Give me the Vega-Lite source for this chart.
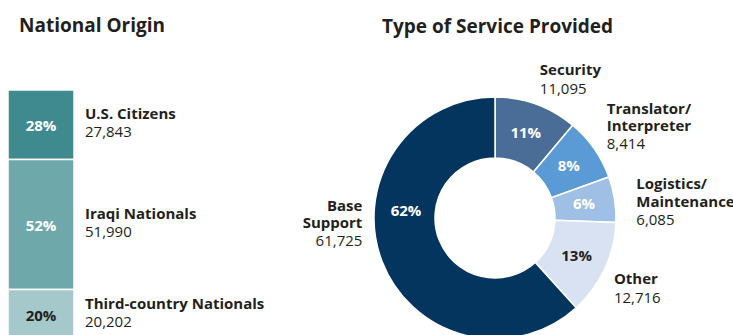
{
  "$schema": "https://vega.github.io/schema/vega-lite/v6.json",
  "padding": {"left": 7, "top": 16, "right": 0, "bottom": 0},
  "bounds": "flush",
  "spacing": 308,
  "resolve": {"scale": {"color": "independent"}},
  "config": {
    "view": {"stroke": null},
    "font": "Open Sans",
    "text": {"font": "Open Sans", "fontSize": 15, "color": "#231f20"},
    "title": {"font": "Open Sans", "fontSize": 19, "fontWeight": "bold", "color": "#231f20", "anchor": "start", "baseline": "alphabetic", "frame": "group"}
  },
  "datasets": {
    "origin": [
      {"origin": "U.S. Citizens", "workers": 27843, "share": "28%", "rank": 1},
      {"origin": "Iraqi Nationals", "workers": 51990, "share": "52%", "rank": 2},
      {"origin": "Third-country Nationals", "workers": 20202, "share": "20%", "rank": 3}
    ],
    "service": [
      {"service": "Security", "label": "Security", "workers": 11095, "share": "11%", "rank": 1},
      {"service": "Translator/Interpreter", "label": "Translator/\nInterpreter", "workers": 8414, "share": "8%", "rank": 2},
      {"service": "Logistics/Maintenance", "label": "Logistics/\nMaintenance", "workers": 6085, "share": "6%", "rank": 3},
      {"service": "Other", "label": "Other", "workers": 12716, "share": "13%", "rank": 4},
      {"service": "Base Support", "label": "Base\nSupport", "workers": 61725, "share": "62%", "rank": 5}
    ]
  },
  "hconcat": [
    {
      "title": {"text": "National Origin", "dx": 11, "offset": 53},
      "width": 66,
      "height": 250,
      "data": {"name": "origin"},
      "encoding": {
        "order": {"field": "rank", "type": "quantitative"}
      },
      "layer": [
        {
          "mark": {"type": "bar", "orient": "vertical", "stroke": "white", "strokeWidth": 1.5},
          "encoding": {
            "x": {"datum": 0, "type": "quantitative", "scale": {"domain": [0, 1], "nice": false, "zero": false, "padding": 0}, "axis": null},
            "x2": {"datum": 1},
            "y": {"field": "workers", "type": "quantitative", "stack": "zero", "scale": {"domain": [0, 100035], "reverse": true, "nice": false, "padding": 0}, "axis": null},
            "color": {"field": "origin", "type": "nominal", "scale": {"domain": ["U.S. Citizens", "Iraqi Nationals", "Third-country Nationals"], "range": ["#3f8a8e", "#6ea8ab", "#a5c9cb"]}, "legend": null}
          }
        },
        {
          "mark": {"type": "text", "fontWeight": "bold", "baseline": "middle", "dy": 1},
          "encoding": {
            "x": {"datum": 0.5, "type": "quantitative"},
            "y": {"field": "workers", "type": "quantitative", "stack": "zero", "bandPosition": 0.5},
            "text": {"field": "share", "type": "nominal"},
            "color": {"condition": {"test": "datum.rank === 3", "value": "#231f20"}, "value": "white"}
          }
        },
        {
          "mark": {"type": "text", "fontWeight": "bold", "align": "left", "baseline": "alphabetic", "dx": 11, "dy": -6},
          "encoding": {
            "x": {"datum": 1, "type": "quantitative"},
            "y": {"field": "workers", "type": "quantitative", "stack": "zero", "bandPosition": 0.5},
            "text": {"field": "origin", "type": "nominal"}
          }
        },
        {
          "mark": {"type": "text", "align": "left", "baseline": "alphabetic", "dx": 11, "dy": 12},
          "encoding": {
            "x": {"datum": 1, "type": "quantitative"},
            "y": {"field": "workers", "type": "quantitative", "stack": "zero", "bandPosition": 0.5},
            "text": {"field": "workers", "type": "quantitative", "format": ","}
          }
        }
      ]
    },
    {
      "title": {"text": "Type of Service Provided", "offset": -20},
      "width": 226,
      "height": 256,
      "data": {"name": "service"},
      "encoding": {
        "theta": {"field": "workers", "type": "quantitative", "stack": true},
        "order": {"field": "rank", "type": "quantitative"}
      },
      "layer": [
        {
          "mark": {"type": "arc", "outerRadius": 121, "innerRadius": 60, "stroke": "white", "strokeWidth": 1.5},
          "encoding": {
            "color": {"field": "service", "type": "nominal", "scale": {"domain": ["Security", "Translator/Interpreter", "Logistics/Maintenance", "Other", "Base Support"], "range": ["#4a6d97", "#5b9bd5", "#a0bfe4", "#d9e2f3", "#03355f"]}, "legend": null}
          }
        },
        {
          "mark": {"type": "text", "radius": 90, "fontWeight": "bold"},
          "encoding": {
            "text": {"condition": {"test": "datum.service !== 'Base Support'", "field": "share", "type": "nominal"}, "value": ""},
            "color": {"condition": {"test": "datum.service === 'Other'", "value": "#231f20"}, "value": "white"}
          }
        },
        {
          "mark": {"type": "text", "radius": 90, "fontWeight": "bold", "color": "white", "dx": -5, "dy": -39},
          "encoding": {
            "text": {"condition": {"test": "datum.service === 'Base Support'", "field": "share", "type": "nominal"}, "value": ""}
          }
        },
        {
          "mark": {"type": "text", "radius": 140, "fontWeight": "bold", "align": "left", "baseline": "alphabetic", "lineBreak": "\n", "lineHeight": 17.5, "dx": -3, "dy": -11},
          "encoding": {"text": {"condition": {"test": "datum.service === 'Security'", "field": "label", "type": "nominal"}, "value": ""}}
        },
        {
          "mark": {"type": "text", "radius": 140, "align": "left", "baseline": "alphabetic", "dx": -3, "dy": 8},
          "encoding": {"text": {"condition": {"test": "datum.service === 'Security'", "field": "workers", "type": "quantitative", "format": ","}, "value": ""}}
        },
        {
          "mark": {"type": "text", "radius": 140, "fontWeight": "bold", "align": "left", "baseline": "alphabetic", "lineBreak": "\n", "lineHeight": 17.5, "dx": -3, "dy": -24},
          "encoding": {"text": {"condition": {"test": "datum.service === 'Translator/Interpreter'", "field": "label", "type": "nominal"}, "value": ""}}
        },
        {
          "mark": {"type": "text", "radius": 140, "align": "left", "baseline": "alphabetic", "dx": -3, "dy": 11.5},
          "encoding": {"text": {"condition": {"test": "datum.service === 'Translator/Interpreter'", "field": "workers", "type": "quantitative", "format": ","}, "value": ""}}
        },
        {
          "mark": {"type": "text", "radius": 140, "fontWeight": "bold", "align": "left", "baseline": "alphabetic", "lineBreak": "\n", "lineHeight": 17.5, "dx": 3, "dy": -7},
          "encoding": {"text": {"condition": {"test": "datum.service === 'Logistics/Maintenance'", "field": "label", "type": "nominal"}, "value": ""}}
        },
        {
          "mark": {"type": "text", "radius": 140, "align": "left", "baseline": "alphabetic", "dx": 3, "dy": 28.5},
          "encoding": {"text": {"condition": {"test": "datum.service === 'Logistics/Maintenance'", "field": "workers", "type": "quantitative", "format": ","}, "value": ""}}
        },
        {
          "mark": {"type": "text", "radius": 140, "fontWeight": "bold", "align": "left", "baseline": "alphabetic", "lineBreak": "\n", "lineHeight": 17.5, "dx": -8, "dy": 7},
          "encoding": {"text": {"condition": {"test": "datum.service === 'Other'", "field": "label", "type": "nominal"}, "value": ""}}
        },
        {
          "mark": {"type": "text", "radius": 140, "align": "left", "baseline": "alphabetic", "dx": -8, "dy": 25.5},
          "encoding": {"text": {"condition": {"test": "datum.service === 'Other'", "field": "workers", "type": "quantitative", "format": ","}, "value": ""}}
        },
        {
          "mark": {"type": "text", "radius": 140, "fontWeight": "bold", "align": "right", "baseline": "alphabetic", "lineBreak": "\n", "lineHeight": 17.5, "dx": -2, "dy": -57.5},
          "encoding": {"text": {"condition": {"test": "datum.service === 'Base Support'", "field": "label", "type": "nominal"}, "value": ""}}
        },
        {
          "mark": {"type": "text", "radius": 140, "align": "right", "baseline": "alphabetic", "dx": -2, "dy": -22.5},
          "encoding": {"text": {"condition": {"test": "datum.service === 'Base Support'", "field": "workers", "type": "quantitative", "format": ","}, "value": ""}}
        }
      ]
    }
  ]
}
